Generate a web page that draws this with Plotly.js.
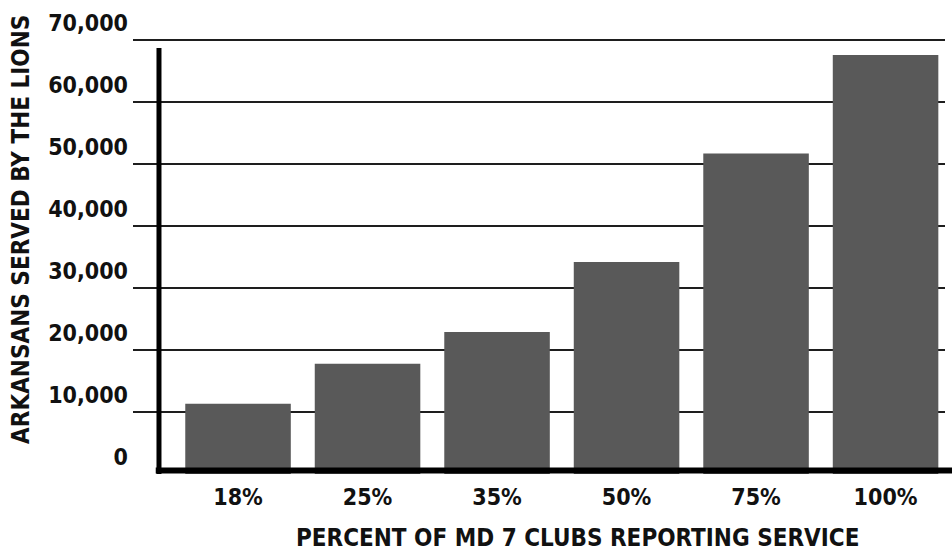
<!DOCTYPE html>
<html>
<head>
<meta charset="utf-8">
<script src="https://cdn.plot.ly/plotly-3.0.1.min.js"></script>
<style>
html,body{margin:0;padding:0;background:#fff;}
#chart{width:952px;height:554px;}
</style>
</head>
<body>
<div id="chart"></div>
<script>
const categories = ["18%", "25%", "35%", "50%", "75%", "100%"];
const served = [11350, 17800, 22900, 34200, 51700, 67600];
const tickValues = [0, 10000, 20000, 30000, 40000, 50000, 60000, 70000];
const tickLabels = ["0", "10,000", "20,000", "30,000", "40,000", "50,000", "60,000", "70,000"];
const yTitle = "ARKANSANS SERVED BY THE LIONS";
const xTitle = "PERCENT OF MD 7 CLUBS REPORTING SERVICE";

const FONT = "DejaVu Sans Condensed, DejaVu Sans, sans-serif";

const trace = {
  type: "bar",
  x: categories.map((c, i) => i),
  y: served,
  marker: {color: "#595959", line: {width: 0}},
  hoverinfo: "skip"
};

const layout = {
  width: 952,
  height: 554,
  margin: {l: 133, r: 7, t: 38, b: 80},
  paper_bgcolor: "#ffffff",
  plot_bgcolor: "#ffffff",
  showlegend: false,
  bargap: 0.185,
  font: {family: FONT, color: "#111", weight: "bold"},
  xaxis: {
    range: [-0.811, 5.459],
    tickvals: categories.map((c, i) => i),
    ticktext: categories,
    showgrid: false,
    zeroline: false,
    showline: false,
    ticks: "",
    ticklabelstandoff: 7,
    tickfont: {family: FONT, size: 23, color: "#111", weight: "bold"},
    fixedrange: true
  },
  yaxis: {
    range: [0, 70323],
    tickvals: tickValues,
    ticktext: tickLabels,
    showgrid: true,
    gridcolor: "#1e1e1e",
    gridwidth: 1.6,
    zeroline: true,
    zerolinecolor: "#ffffff",
    zerolinewidth: 1,
    showline: false,
    ticks: "",
    ticklabelstandoff: 4,
    ticklabelshift: -17,
    tickfont: {family: FONT, size: 23, color: "#111", weight: "bold"},
    fixedrange: true
  },
  shapes: [
    {type: "line", xref: "paper", yref: "y", x0: 0.032, x1: 0.032, y0: 0, y1: 68700,
     line: {color: "#000", width: 5}, layer: "above"},
    {type: "line", xref: "paper", yref: "y", x0: 0.028, x1: 1.01, y0: 550, y1: 550,
     line: {color: "#000", width: 6}, layer: "above"}
  ],
  annotations: [
    {text: xTitle, xref: "paper", yref: "paper", x: 0.547, y: -0.146,
     xanchor: "center", yanchor: "middle", showarrow: false,
     font: {family: FONT, size: 24, color: "#111", weight: "bold"}},
    {text: yTitle, xref: "paper", yref: "paper", x: -0.138, y: 0.562,
     xanchor: "center", yanchor: "middle", showarrow: false, textangle: -90,
     font: {family: FONT, size: 24, color: "#111", weight: "bold"}}
  ]
};

Plotly.newPlot("chart", [trace], layout, {displayModeBar: false, staticPlot: true});
</script>
</body>
</html>
